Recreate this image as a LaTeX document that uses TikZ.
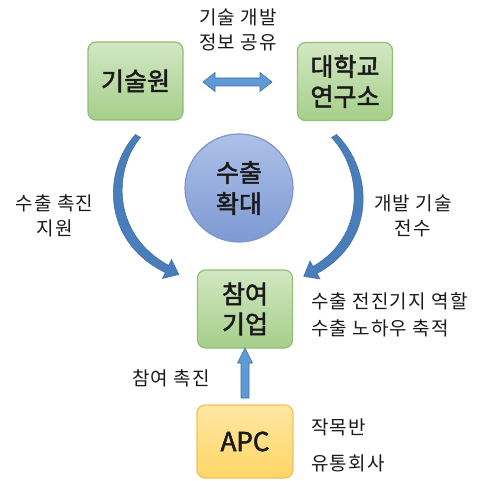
\documentclass[tikz,border=0pt]{standalone}
\usepackage{fontspec}
\setmainfont{Noto Sans CJK KR}
\newfontfamily\boxfont[FakeBold=2]{Noto Sans CJK KR}
\newfontfamily\lblfont[LetterSpace=6]{Noto Sans CJK KR}
\usetikzlibrary{arrows.meta}
\definecolor{gfillT}{HTML}{D2E7C3}
\definecolor{gfillB}{HTML}{A6CF8A}
\definecolor{gline}{HTML}{93BE76}
\definecolor{cfillT}{HTML}{AEC0E8}
\definecolor{cfillB}{HTML}{7D9AD3}
\definecolor{cline}{HTML}{7E95C9}
\definecolor{yfillT}{HTML}{FFE7A3}
\definecolor{yfillB}{HTML}{FFD666}
\definecolor{yline}{HTML}{F0C35A}
\definecolor{arrblue}{HTML}{4A7EBB}
\definecolor{arrdark}{HTML}{3A6AA3}
\definecolor{arrlight}{HTML}{5F9AD6}
\definecolor{arredge}{HTML}{41719C}
\definecolor{txt}{HTML}{1A1A1A}
\tikzset{
  gbox/.style={draw=gline, line width=1.2pt, rounded corners=8pt, top color=gfillT, bottom color=gfillB,
    minimum width=95pt, minimum height=78pt, align=center, font=\boxfont\fontsize{25}{30}\selectfont, text=txt, inner sep=0pt},
  ybox/.style={draw=yline, line width=1.2pt, rounded corners=8pt, top color=yfillT, bottom color=yfillB,
    minimum width=96pt, minimum height=73pt, align=center, font=\boxfont\fontsize{26}{29}\selectfont, text=txt, inner sep=0pt},
  circ/.style={draw=cline, line width=1.2pt, circle, top color=cfillT, bottom color=cfillB,
    minimum size=108pt, align=center, font=\boxfont\fontsize{25}{31}\selectfont, text=txt, inner sep=0pt},
  lbl/.style={align=center, font=\lblfont\fontsize{19}{25}\selectfont, text=txt, inner sep=0pt},
  lbll/.style={align=left, anchor=west, font=\lblfont\fontsize{19}{27}\selectfont, text=txt, inner sep=0pt},
  curvarr/.style={fill=arrblue, draw=arrdark, line width=0.5pt},
  flatarr/.style={fill=arrlight, draw=arredge, line width=0.6pt}
}
\begin{document}
\begin{tikzpicture}[x=1pt,y=-1pt]
\useasboundingbox (0,0) rectangle (484,481);
\fill[white] (0,0) rectangle (484,481);
% boxes
\node[gbox] (kis) at (135.5,81) {기술원};
\node[gbox] (uni) at (345,81.5) {대학교\\연구소};
\node[circ] (exp) at (239,188) {수출\\확대};
\node[gbox] (cmp) at (245,309) {참여\\기업};
\node[ybox] (apc) at (245,441.5) {APC};
% double arrow between kis and uni
\filldraw[flatarr] (203,82) -- (215,72.5) -- (215,78) -- (260,78) -- (260,72.5) -- (272,82)
  -- (260,91.5) -- (260,86) -- (215,86) -- (215,91.5) -- cycle;
% up arrow apc -> cmp
\filldraw[flatarr] (245,348) -- (252.5,363) -- (249,363) -- (249,398) -- (241,398) -- (241,363) -- (237.5,363) -- cycle;
% curved arrows (tapered)
\filldraw[curvarr] (135.5,134.5) .. controls (103,170) and (101,241) .. (165.3,272.6)
  -- (162.5,278.5) -- (178.8,274.5) -- (171.5,259.5) -- (168.7,265.4)
  .. controls (112,235) and (113,170) .. (140.5,137.5) -- cycle;
\filldraw[curvarr] (336.5,134.5) .. controls (373,170) and (377,241) .. (317,273.5)
  -- (320,279) -- (303.7,276.4) -- (310,261) -- (313,266.5)
  .. controls (366,236) and (363,171) .. (331.5,137.5) -- cycle;
% labels
\node[lbl] (l1) at (238,30) {기술 개발\\정보 공유};
\node[lbl] (l2) at (54.5,215.5) {수출 촉진\\지원};
\node[lbl] (l3) at (413,215.5) {개발 기술\\전수};
\node[lbll] (l4) at (311,314.5) {수출 전진기지 역할\\수출 노하우 축적};
\node[lbl] (l5) at (171,378) {참여 촉진};
\node[lbll, font=\lblfont\fontsize{19}{36}\selectfont] (l6) at (311,445) {작목반\\유통회사};
\end{tikzpicture}
\end{document}
